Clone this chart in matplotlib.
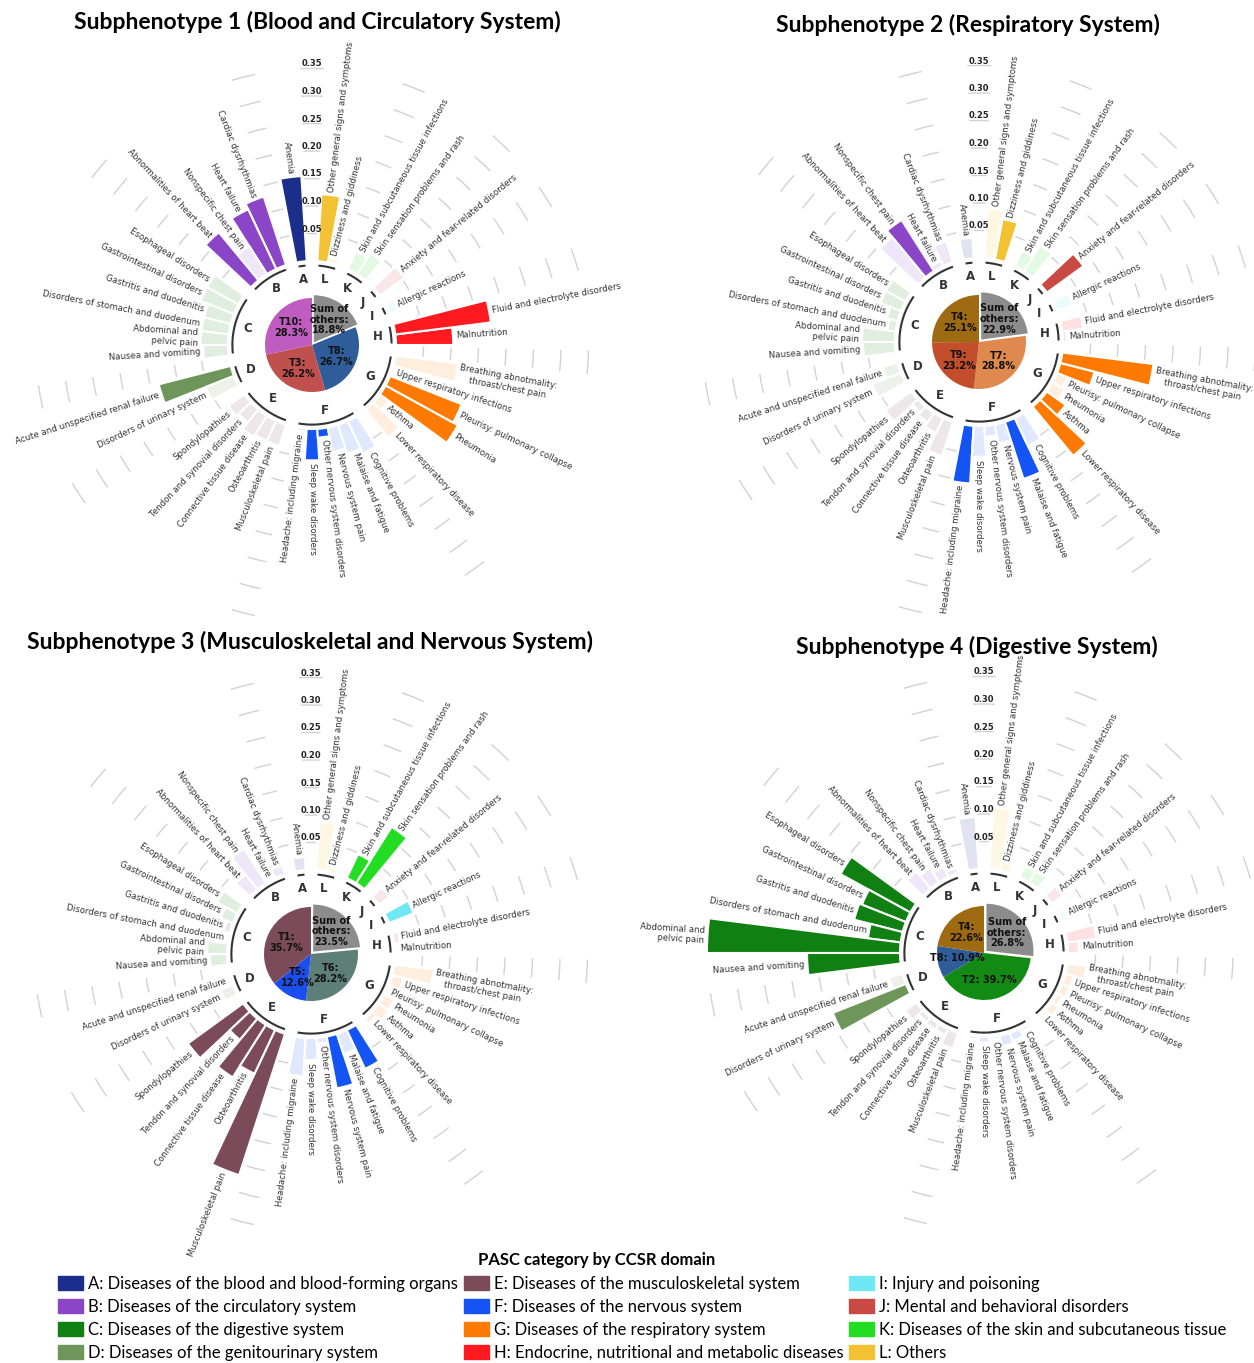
"""
Circular bar charts of PASC conditions per subphenotype, with a topic pie
in the middle of each panel and a shared CCSR domain legend at the bottom.
"""

import numpy as np
import matplotlib.pyplot as plt
from matplotlib.colors import to_rgba
from matplotlib.patches import Patch

# -----------------------------
# Data
# -----------------------------
group_letters = ["A", "B", "C", "D", "E", "F", "G", "H", "I", "J", "K", "L"]
group_sizes = [1, 4, 6, 2, 5, 6, 6, 2, 1, 1, 2, 2]
group_names = [
    "Diseases of the blood and blood-forming organs",
    "Diseases of the circulatory system",
    "Diseases of the digestive system",
    "Diseases of the genitourinary system",
    "Diseases of the musculoskeletal system",
    "Diseases of the nervous system",
    "Diseases of the respiratory system",
    "Endocrine, nutritional and metabolic diseases",
    "Injury and poisoning",
    "Mental and behavioral disorders",
    "Diseases of the skin and subcutaneous tissue",
    "Others",
]
group_colors = [
    "#1C2E8C", "#8B46C8", "#108012", "#6E955A", "#7B4B59", "#1454F5",
    "#FF7A00", "#FF1A1F", "#70E8F4", "#C94A45", "#22DD22", "#F2C233",
]

item_labels = [
    "Anemia",
    "Cardiac dysrhythmias", "Heart failure", "Nonspecific chest pain",
    "Abnormalities of heart beat",
    "Esophageal disorders", "Gastrointestinal disorders", "Gastritis and duodenitis",
    "Disorders of stomach and duodenum", "Abdominal and\npelvic pain",
    "Nausea and vomiting",
    "Acute and unspecified renal failure", "Disorders of urinary system",
    "Spondylopathies", "Tendon and synovial disorders", "Connective tissue disease",
    "Osteoarthritis", "Musculoskeletal pain",
    "Headache: including migraine", "Sleep wake disorders",
    "Other nervous system disorders", "Nervous system pain", "Malaise and fatigue",
    "Cognitive problems",
    "Lower respiratory disease", "Asthma", "Pneumonia", "Pleurisy: pulmonary collapse",
    "Upper respiratory infections", "Breathing abnotmality:\nthroast/chest pain",
    "Malnutrition", "Fluid and electrolyte disorders",
    "Allergic reactions",
    "Anxiety and fear-related disorders",
    "Skin sensation problems and rash", "Skin and subcutaneous tissue infections",
    "Dizziness and giddiness", "Other general signs and symptoms",
]

values_1 = [
    0.155,
    0.131, 0.120, 0.060, 0.113,
    0.065, 0.065, 0.050, 0.050, 0.050, 0.045,
    0.135, 0.055,
    0.035, 0.030, 0.045, 0.040, 0.040,
    0.005, 0.057, 0.016, 0.045, 0.055, 0.065,
    0.065, 0.020, 0.150, 0.140, 0.004, 0.115,
    0.104, 0.175,
    0.015,
    0.055,
    0.045, 0.035,
    0.010, 0.122,
]
significant_1 = [
    "Anemia", "Cardiac dysrhythmias", "Heart failure", "Abnormalities of heart beat",
    "Acute and unspecified renal failure", "Sleep wake disorders",
    "Other nervous system disorders", "Pneumonia", "Pleurisy: pulmonary collapse",
    "Malnutrition", "Fluid and electrolyte disorders", "Other general signs and symptoms",
]

values_2 = [
    0.037,
    0.040, 0.010, 0.110, 0.095,
    0.040, 0.040, 0.020, 0.015, 0.060, 0.058,
    0.028, 0.056,
    0.058, 0.013, 0.020, 0.030, 0.065,
    0.105, 0.056, 0.020, 0.035, 0.109, 0.056,
    0.116, 0.042, 0.025, 0.020, 0.064, 0.167,
    0.007, 0.038,
    0.031,
    0.082,
    0.055, 0.030,
    0.075, 0.090,
]
significant_2 = [
    "Nonspecific chest pain", "Headache: including migraine", "Malaise and fatigue",
    "Lower respiratory disease", "Asthma", "Upper respiratory infections",
    "Breathing abnotmality:\nthroast/chest pain", "Anxiety and fear-related disorders",
    "Dizziness and giddiness",
]

values_3 = [
    0.024,
    0.017, 0.003, 0.074, 0.035,
    0.042, 0.024, 0.011, 0.004, 0.036, 0.031,
    0.004, 0.024,
    0.124, 0.050, 0.113, 0.088, 0.270,
    0.070, 0.040, 0.010, 0.096, 0.038, 0.078,
    0.011, 0.022, 0.020, 0.003, 0.021, 0.072,
    0.004, 0.010,
    0.048,
    0.023,
    0.121, 0.048,
    0.010, 0.089,
]
significant_3 = [
    "Spondylopathies", "Tendon and synovial disorders", "Connective tissue disease",
    "Osteoarthritis", "Musculoskeletal pain", "Nervous system pain",
    "Cognitive problems", "Allergic reactions", "Skin sensation problems and rash",
    "Skin and subcutaneous tissue infections",
]

values_4 = [
    0.095,
    0.010, 0.020, 0.030, 0.040,
    0.145, 0.086, 0.091, 0.060, 0.351, 0.169,
    0.025, 0.143,
    0.025, 0.010, 0.012, 0.012, 0.030,
    0.005, 0.010, 0.005, 0.020, 0.015, 0.005,
    0.005, 0.015, 0.010, 0.015, 0.015, 0.035,
    0.020, 0.053,
    0.013,
    0.024,
    0.024, 0.022,
    0.016, 0.112,
]
significant_4 = [
    "Esophageal disorders", "Gastrointestinal disorders", "Gastritis and duodenitis",
    "Disorders of stomach and duodenum", "Abdominal and\npelvic pain",
    "Nausea and vomiting", "Disorders of urinary system",
]

pie_shares_1 = [18.8, 26.7, 26.2, 28.3]
pie_labels_1 = ["Sum of\nothers:\n18.8%", "T8:\n26.7%", "T3:\n26.2%", "T10:\n28.3%"]
pie_colors_1 = ["#8C8C8C", "#2E5D9A", "#C0504D", "#C05BC0"]

pie_shares_2 = [22.9, 28.8, 23.2, 25.1]
pie_labels_2 = ["Sum of\nothers:\n22.9%", "T7:\n28.8%", "T9:\n23.2%", "T4:\n25.1%"]
pie_colors_2 = ["#8C8C8C", "#E0894F", "#C24E2C", "#9E6A12"]

pie_shares_3 = [23.5, 28.2, 12.6, 35.7]
pie_labels_3 = ["Sum of\nothers:\n23.5%", "T6:\n28.2%", "T5:\n12.6%", "T1:\n35.7%"]
pie_colors_3 = ["#8C8C8C", "#5E7F77", "#1A4EF0", "#7B4B59"]

pie_shares_4 = [26.8, 39.7, 10.9, 22.6]
pie_labels_4 = ["Sum of\nothers:\n26.8%", "T2: 39.7%", "T8: 10.9%", "T4:\n22.6%"]
pie_colors_4 = ["#8C8C8C", "#138A13", "#2E5D9A", "#9E6A12"]

titles = [
    "Subphenotype 1 (Blood and Circulatory System)",
    "Subphenotype 2 (Respiratory System)",
    "Subphenotype 3 (Musculoskeletal and Nervous System)",
    "Subphenotype 4 (Digestive System)",
]

tick_levels = [0.05, 0.10, 0.15, 0.20, 0.25, 0.30, 0.35]

# -----------------------------
# Layout (pixels)
# -----------------------------
W, H = 1254, 1363
panel_centers = [(312, 345), (979, 342), (311, 954), (984, 953)]
title_positions = [(317, 22), (968, 25), (310, 642), (977, 647)]

R0_PX = 84          # radius of the value 0
PX_PER_UNIT = 550   # radial pixels per unit of value
RMAX = 0.45
RMIN = -R0_PX / PX_PER_UNIT
PIE_PX = 47


def main():
    plt.rcParams["font.family"] = ["DejaVu Sans"]
    fig = plt.figure(figsize=(W / 100, H / 100), dpi=100)

    # slot positions: one empty slot before every group, slot 0 at the top
    slots, item_group = [], []
    k = 1
    for g, size in enumerate(group_sizes):
        for _ in range(size):
            slots.append(k)
            item_group.append(g)
            k += 1
        k += 1
    n_slots = k - 1
    width = 2 * np.pi / n_slots
    slots = np.array(slots)
    gap_slots = [0] + [s for s in range(1, n_slots) if s not in slots]

    panels = [
        (values_1, significant_1, pie_shares_1, pie_labels_1, pie_colors_1),
        (values_2, significant_2, pie_shares_2, pie_labels_2, pie_colors_2),
        (values_3, significant_3, pie_shares_3, pie_labels_3, pie_colors_3),
        (values_4, significant_4, pie_shares_4, pie_labels_4, pie_colors_4),
    ]

    rad_px = (RMAX - RMIN) * PX_PER_UNIT

    for p, (values, significant, shares, pie_labels, pie_colors) in enumerate(panels):
        cx, cy = panel_centers[p]
        ax = fig.add_axes(
            [(cx - rad_px) / W, (H - cy - rad_px) / H, 2 * rad_px / W, 2 * rad_px / H],
            projection="polar",
        )
        ax.set_theta_offset(np.pi / 2)
        ax.set_ylim(RMIN, RMAX)
        ax.axis("off")

        theta = slots * width

        # reference dashes in the empty slots
        for gs in gap_slots:
            tt = np.linspace((gs - 0.32) * width, (gs + 0.32) * width, 12)
            for level in tick_levels:
                ax.plot(tt, np.full_like(tt, level), color="#d2d2d2", lw=1.0, zorder=1)

        for level in tick_levels:
            ax.text(0, level, f"{level:.2f}", ha="center", va="bottom",
                    fontsize=6, fontweight="bold", color="#222222", zorder=5)

        # bars
        for t, v, g, lab in zip(theta, values, item_group, item_labels):
            alpha = 1.0 if lab in significant else 0.13
            ax.bar(t, v, width=width, bottom=0,
                   color=to_rgba(group_colors[g], alpha),
                   edgecolor="white", linewidth=1.5, zorder=2)

            deg = np.degrees(t)
            if deg < 180:
                rot, ha, ma = deg + 270, "right", "right"
            else:
                rot, ha, ma = deg + 90, "left", "center"
            ax.text(t, v + 0.005, lab, rotation=rot, rotation_mode="anchor",
                    ha=ha, va="center", multialignment=ma,
                    fontsize=6.2, color="#333333", zorder=4)

        # group arcs and letters
        for g, letter in enumerate(group_letters):
            s = slots[np.array(item_group) == g]
            tt = np.linspace((s[0] - 0.35) * width, (s[-1] + 0.35) * width, 40)
            ax.plot(tt, np.full_like(tt, -0.008), color="#333333", lw=1.5,
                    solid_capstyle="butt", zorder=3)
            ax.text(s.mean() * width, -0.032, letter, ha="center", va="center",
                    fontsize=8.5, fontweight="bold", color="#333333")

        # center pie
        half = PIE_PX * 1.15
        pax = fig.add_axes([(cx - half) / W, (H - cy - half) / H, 2 * half / W, 2 * half / H])
        explode = [0.07] + [0] * (len(shares) - 1)
        pax.pie(shares, colors=pie_colors, startangle=90, counterclock=False,
                explode=explode, radius=1)
        pax.set_xlim(-1.15, 1.15)
        pax.set_ylim(-1.15, 1.15)

        total = sum(shares)
        cum = np.cumsum(shares)
        for i, (share, lab) in enumerate(zip(shares, pie_labels)):
            mid = np.radians(90 - 360 * (cum[i] - share / 2) / total)
            r = 0.58 + explode[i]
            pax.text(r * np.cos(mid), r * np.sin(mid), lab, ha="center", va="center",
                     fontsize=7, fontweight="bold", color="#111111", linespacing=1.1)

        tx, ty = title_positions[p]
        fig.text(tx / W, 1 - ty / H, titles[p], ha="center", va="center",
                 fontsize=16.5, fontweight="bold", family="Lato")

    # -----------------------------
    # Legend
    # -----------------------------
    handles = [
        Patch(facecolor=c, edgecolor=c, label=f"{l}: {n}")
        for l, n, c in zip(group_letters, group_names, group_colors)
    ]
    fig.text(597 / W, 1 - 1260 / H, "PASC category by CCSR domain", ha="center",
             va="center", fontsize=12, fontweight="bold", family="Lato")
    fig.legend(
        handles=handles, loc="upper left", bbox_to_anchor=(58 / W, 1 - 1276 / H),
        ncol=3, frameon=False, prop={"family": "Lato", "size": 12},
        columnspacing=0.35, handlelength=1.5, handleheight=0.9, handletextpad=0.3,
        labelspacing=0.42, borderaxespad=0, borderpad=0,
    )

    fig.savefig("out.png", dpi=100)


if __name__ == "__main__":
    main()
